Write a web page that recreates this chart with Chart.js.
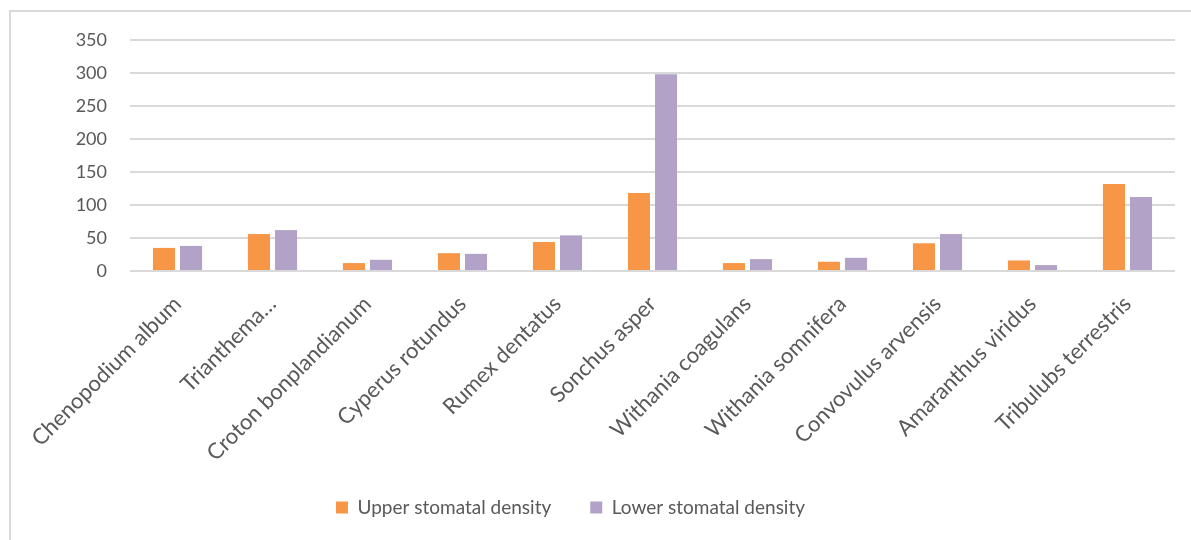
<!DOCTYPE html>
<html>
<head>
<meta charset="utf-8">
<script src="https://cdn.jsdelivr.net/npm/chart.js@4/dist/chart.umd.min.js"></script>
<style>
  html, body { margin: 0; padding: 0; background: #ffffff; overflow: hidden; }
  #wrap { position: relative; width: 1191px; height: 540px; }
  #frame { position: absolute; left: 9px; top: 10px; width: 1300px; height: 700px;
           border-left: 2px solid #d9d9d9; border-top: 2px solid #d9d9d9; box-sizing: border-box; }
  canvas { position: absolute; left: 0; top: 0; }
</style>
</head>
<body>
<div id="wrap">
  <div id="frame"></div>
  <canvas id="chart" width="1191" height="540"></canvas>
</div>
<script>
// Weed species sampled
const species = [
  'Chenopodium album', 'Trianthema\u2026', 'Croton bonplandianum', 'Cyperus rotundus',
  'Rumex dentatus', 'Sonchus asper', 'Withania coagulans', 'Withania somnifera',
  'Convovulus arvensis', 'Amaranthus viridus', 'Tribulubs terrestris'
];
// Stomatal density, adaxial (upper) surface
const upperDensity = [35, 56, 12, 27, 44, 118, 12, 14, 42, 16, 132];
// Stomatal density, abaxial (lower) surface
const lowerDensity = [38, 62, 17, 26, 54, 298, 18, 20, 56, 9, 112];
// Value axis ticks
const yTicks = [0, 50, 100, 150, 200, 250, 300, 350];

const textColor = '#595959';
const fontFamily = 'Lato, "Open Sans", sans-serif';
const plotBottom = 271;   // pixel row of the zero line

// Places the legend row: sideways offset and fixed top edge
const legendPlace = {
  id: 'legendPlace',
  afterLayout(chart, args, opts) {
    const lg = chart.legend;
    if (!lg) return;
    const h = lg.bottom - lg.top;
    lg.left += opts.dx; lg.right += opts.dx;
    lg.top = opts.top; lg.bottom = opts.top + h;
  }
};

new Chart(document.getElementById('chart'), {
  type: 'bar',
  data: {
    labels: species,
    datasets: [
      { label: 'Upper stomatal density', data: upperDensity, backgroundColor: '#F79646' },
      { label: 'Lower stomatal density', data: lowerDensity, backgroundColor: '#B3A2C7' }
    ]
  },
  options: {
    responsive: false,
    animation: false,
    devicePixelRatio: 1,
    categoryPercentage: 0.57,
    barPercentage: 0.815,
    layout: { padding: { top: 40, right: 16, bottom: 0, left: 0 } },
    scales: {
      x: {
        grid: { display: false },
        border: { display: false },
        ticks: {
          color: textColor, font: { family: fontFamily, size: 22 },
          minRotation: 45, maxRotation: 45, autoSkip: false, padding: 12
        },
        afterFit(scale) {
          const lg = scale.chart.legend;
          scale.height = scale.chart.height - plotBottom - (lg ? lg.height : 0);
        }
      },
      y: {
        min: 0, max: 350,
        afterBuildTicks(scale) { scale.ticks = yTicks.map(v => ({ value: v })); },
        grid: { color: '#d9d9d9', lineWidth: 2, drawTicks: false },
        border: { display: false },
        ticks: { color: textColor, font: { family: fontFamily, size: 18 }, padding: 23 },
        afterFit(scale) { scale.width = 130; }
      }
    },
    plugins: {
      legendPlace: { dx: -17, top: 459 },
      legend: {
        position: 'bottom',
        labels: {
          color: textColor, font: { family: fontFamily, size: 19 },
          boxWidth: 12, boxHeight: 12, padding: 39
        }
      },
      tooltip: { enabled: false }
    }
  },
  plugins: [legendPlace]
});
</script>
</body>
</html>
